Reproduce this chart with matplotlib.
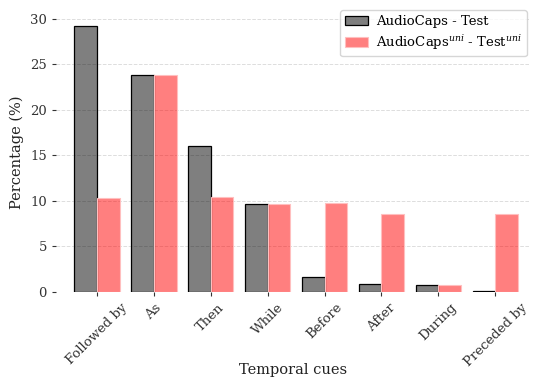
import numpy as np
import matplotlib.pyplot as plt

cues = ["Followed by", "As", "Then", "While", "Before", "After", "During", "Preceded by"]
test = [29.2, 23.8, 16.0, 9.65, 1.6, 0.88, 0.77, 0.05]
test_uni = [10.3, 23.8, 10.45, 9.6, 9.8, 8.57, 0.73, 8.57]

plt.rcParams['font.family'] = 'DejaVu Serif'
plt.rcParams['mathtext.fontset'] = 'dejavuserif'

fig = plt.figure(figsize=(5.37, 3.81), dpi=100)
ax = fig.add_axes([0.104, 0.234, 0.883, 0.733])

x = np.arange(len(cues))
w = 0.4
ax.bar(x - w/2, test, w, color=(0, 0, 0, 0.5), edgecolor='black', linewidth=0.9,
       label='AudioCaps - Test', zorder=3)
ax.bar(x + w/2, test_uni, w, color=(1, 0, 0, 0.5), edgecolor=(1, 0.75, 0.75), linewidth=0.8,
       label='AudioCaps$^{uni}$ - Test$^{uni}$', zorder=3)

ax.set_xticks(x)
ax.set_xticklabels(cues, rotation=45, fontsize=9.5)
ax.tick_params(axis='y', labelsize=9.5)
ax.tick_params(colors='#333333', length=3)
ax.set_xlim(-0.72, 7.61)
ax.set_xlabel("Temporal cues", fontsize=10.5, color='#222222')
ax.xaxis.set_label_coords(0.5, -0.255)
ax.set_ylabel("Percentage (%)", fontsize=10.5, color='#222222')
ax.yaxis.grid(True, linestyle='--', color='#dddddd', linewidth=0.7, zorder=0)
for s in ax.spines.values():
    s.set_visible(False)

ax.legend(loc='upper right', bbox_to_anchor=(0.993, 0.99), bbox_transform=fig.transFigure,
          fontsize=9.5, fancybox=True, handlelength=1.8, labelspacing=0.35,
          borderpad=0.35, handletextpad=0.6)

fig.savefig('out.png', dpi=100)
